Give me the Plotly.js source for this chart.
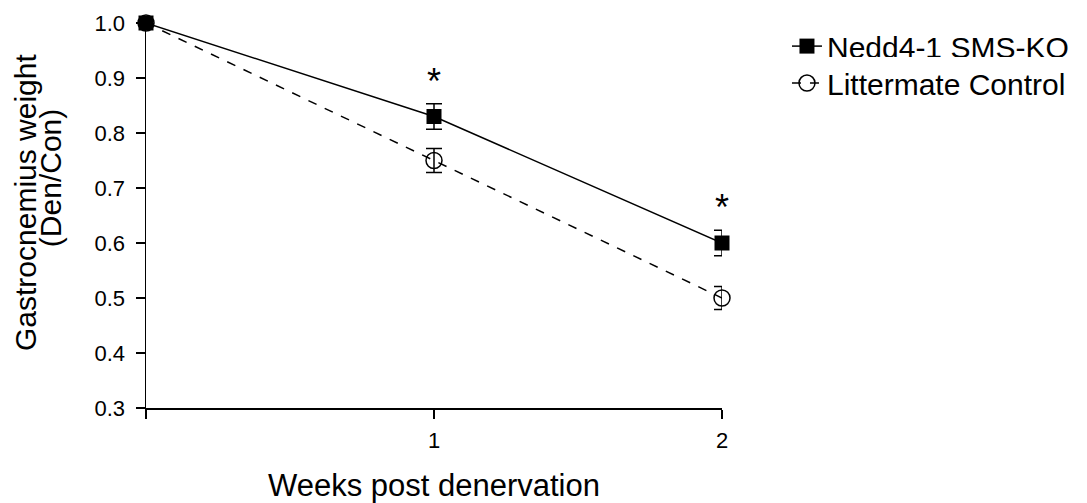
<!DOCTYPE html>
<html><head><meta charset="utf-8">
<script src="https://cdn.plot.ly/plotly-3.0.1.min.js"></script>
<style>body{margin:0;background:#fff}#c{width:1087px;height:503px}</style>
</head><body><div id="c"></div>
<script>
var weeks = [0, 1, 2];
var koMean = [1.0, 0.83, 0.60];
var koErr = [0, 0.023, 0.023];
var ctlMean = [1.0, 0.75, 0.50];
var ctlErr = [0, 0.022, 0.021];
var xTickVals = [0, 1, 2];
var xTickText = ['', '1', '2'];
var starX = [1, 2];
var starY = [0.893, 0.664];
var yTitleLines = ['Gastrocnemius weight', '(Den/Con)'];

var F = 'Liberation Sans, Arial, sans-serif';
var traces = [
  {x: weeks, y: koMean, name: 'Nedd4-1 SMS-KO', mode: 'lines+markers', cliponaxis: false, legend: 'legend',
   line: {color: '#000', width: 1.5},
   marker: {symbol: 'square', size: 15, color: '#000'},
   error_y: {type: 'data', array: koErr, visible: true, color: '#000', thickness: 1.5, width: 8}},
  {x: weeks, y: ctlMean, name: 'Littermate Control', mode: 'lines+markers', cliponaxis: false, legend: 'legend2',
   line: {color: '#000', width: 1.5, dash: 'dash'},
   marker: {symbol: 'circle-open', size: 16, color: '#000', line: {width: 1.5}},
   error_y: {type: 'data', array: ctlErr, visible: true, color: '#000', thickness: 1.5, width: 8}}
];
var ann = starX.map(function(x, i){
  return {x: x, y: starY[i], text: '*', showarrow: false, font: {family: F, size: 36, color: '#000'}};
});
ann.push({xref: 'paper', yref: 'paper', x: -0.2083, y: 0.5325, text: yTitleLines[0], textangle: -90,
          showarrow: false, xanchor: 'center', yanchor: 'middle', font: {family: F, size: 30, color: '#000'}});
ann.push({xref: 'paper', yref: 'paper', x: -0.1667, y: 0.597, text: yTitleLines[1], textangle: -90,
          showarrow: false, xanchor: 'center', yanchor: 'middle', font: {family: F, size: 30, color: '#000'}});
var legFont = {family: F, size: 30, color: '#000'};
var layout = {
  width: 1087, height: 503,
  margin: {l: 146, r: 365, t: 23, b: 95, autoexpand: false},
  paper_bgcolor: '#fff', plot_bgcolor: '#fff',
  font: {family: F, color: '#000'},
  showlegend: true,
  legend: {x: 1.1128, y: 0.940, xanchor: 'left', yanchor: 'middle', font: legFont, itemwidth: 30},
  legend2: {x: 1.1128, y: 0.844, xanchor: 'left', yanchor: 'middle', font: legFont, itemwidth: 30},
  xaxis: {range: [0, 2], tickvals: xTickVals, ticktext: xTickText, showline: true, linecolor: '#000', linewidth: 1.5,
          ticks: 'outside', ticklen: 9, tickwidth: 1.5, tickcolor: '#000', showgrid: false, zeroline: false,
          tickfont: {family: F, size: 22}, ticklabelstandoff: 3,
          title: {text: 'Weeks post denervation', font: {family: F, size: 31}, standoff: 24}},
  yaxis: {range: [0.3, 1.0], dtick: 0.1, tick0: 0.3, tickformat: '.1f', showline: true, linecolor: '#000', linewidth: 1.5,
          ticks: 'outside', ticklen: 9, tickwidth: 1.5, tickcolor: '#000', showgrid: false, zeroline: false,
          tickfont: {family: F, size: 22}, ticklabelstandoff: 6},
  annotations: ann
};
Plotly.newPlot('c', traces, layout, {displayModeBar: false, staticPlot: true});
</script></body></html>
